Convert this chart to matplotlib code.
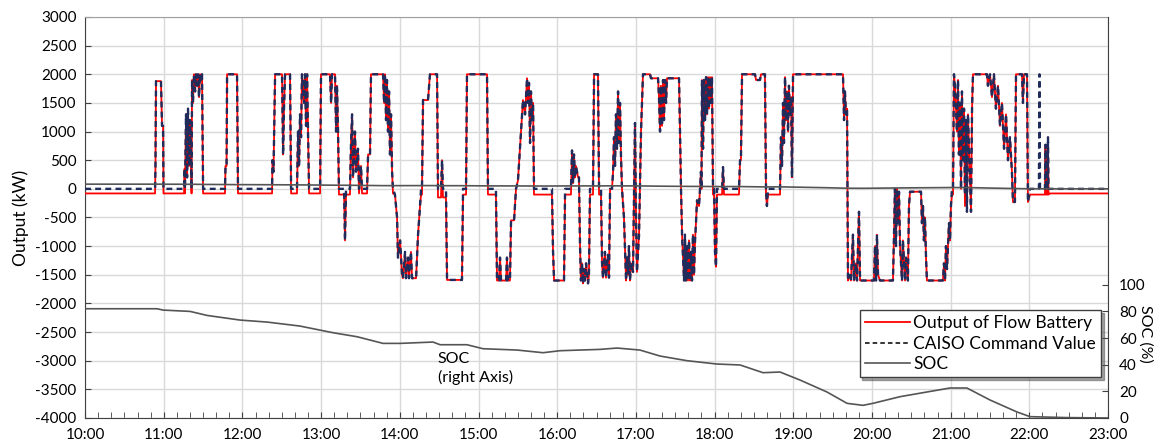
import matplotlib
matplotlib.use("Agg")
import matplotlib.pyplot as plt
from matplotlib.lines import Line2D
import numpy as np

plt.rcParams['font.family'] = ['Lato', 'DejaVu Sans']
plt.rcParams['axes.unicode_minus'] = False

# time in minutes after 10:00, power in kW
t_min = [
    0.0, 53.4, 53.7, 54.1, 57.9, 58.7, 59.5, 59.8, 75.5, 75.9,
    76.2, 77.0, 77.8, 78.5, 79.3, 80.1, 80.8, 81.2, 81.6, 82.3,
    83.1, 83.9, 84.6, 85.4, 86.2, 86.9, 87.7, 88.4, 89.2, 90.0,
    106.7, 107.1, 107.9, 108.3, 115.9, 116.6, 142.6, 142.9, 143.7, 144.9,
    150.2, 151.0, 151.7, 152.5, 156.3, 157.1, 161.6, 162.4, 163.2, 163.9,
    164.7, 165.4, 167.0, 167.7, 168.5, 169.3, 170.0, 170.8, 179.2, 179.9,
    186.8, 187.6, 188.3, 190.6, 191.4, 192.1, 192.9, 193.6, 197.5, 198.2,
    199.0, 202.0, 202.8, 203.6, 204.3, 205.8, 206.6, 208.1, 208.9, 210.4,
    211.2, 215.0, 215.8, 217.3, 218.0, 227.2, 228.0, 228.7, 229.5, 230.2,
    231.0, 231.8, 232.5, 233.3, 234.1, 234.8, 236.3, 237.9, 238.6, 240.2,
    241.7, 242.4, 244.0, 244.7, 246.3, 247.0, 248.5, 249.3, 252.4, 253.1,
    253.9, 255.4, 256.2, 256.9, 257.7, 261.5, 263.0, 268.4, 269.1, 271.4,
    272.2, 272.9, 275.2, 276.0, 287.4, 288.2, 290.5, 291.2, 306.5, 307.2,
    313.3, 314.1, 315.6, 316.4, 317.2, 321.0, 321.7, 322.5, 324.0, 324.8,
    327.1, 328.6, 330.1, 332.4, 333.9, 335.5, 337.0, 337.7, 338.5, 339.3,
    340.0, 340.8, 341.6, 342.3, 356.0, 356.8, 357.6, 365.2, 366.0, 370.5,
    371.3, 372.1, 372.8, 373.6, 374.3, 375.9, 376.6, 377.4, 378.1, 378.9,
    379.7, 380.4, 381.2, 382.0, 383.5, 384.2, 385.0, 387.3, 388.1, 391.1,
    391.9, 393.4, 394.2, 394.9, 396.4, 397.2, 398.7, 399.5, 400.3, 401.8,
    402.6, 403.3, 404.1, 404.8, 405.6, 406.4, 407.1, 407.9, 408.6, 409.4,
    410.9, 412.5, 413.2, 414.0, 414.7, 415.5, 416.3, 417.8, 419.3, 420.1,
    420.8, 422.4, 423.9, 425.4, 430.8, 431.5, 436.9, 437.6, 438.4, 439.1,
    439.9, 440.7, 441.4, 442.2, 443.0, 443.7, 452.9, 453.6, 454.4, 455.2,
    456.7, 457.4, 458.2, 459.0, 459.7, 460.5, 461.3, 462.0, 462.8, 463.5,
    464.3, 465.1, 465.8, 466.6, 468.1, 468.9, 469.6, 470.0, 470.4, 471.2,
    471.9, 472.7, 473.5, 474.2, 475.0, 475.7, 476.5, 477.3, 478.0, 478.8,
    479.6, 480.3, 481.1, 481.8, 485.7, 486.4, 487.2, 498.6, 499.4, 500.1,
    500.9, 510.8, 511.6, 514.6, 515.4, 518.4, 519.2, 519.9, 520.7, 529.9,
    530.6, 531.4, 532.2, 532.9, 533.7, 534.4, 535.2, 536.0, 536.7, 537.5,
    538.3, 539.0, 539.8, 577.9, 578.7, 579.4, 580.2, 581.0, 581.7, 582.5,
    584.0, 585.5, 586.3, 587.8, 588.6, 590.1, 590.9, 601.5, 602.3, 603.1,
    603.8, 604.6, 606.1, 616.0, 616.8, 617.5, 618.3, 619.1, 619.8, 620.6,
    621.4, 622.9, 623.6, 625.2, 625.9, 627.4, 628.2, 629.0, 637.4, 638.1,
    638.9, 639.6, 640.4, 641.2, 641.9, 654.1, 654.9, 655.7, 656.4, 657.2,
    658.7, 659.5, 660.2, 661.0, 661.8, 662.5, 663.3, 664.8, 665.6, 666.3,
    667.1, 667.9, 668.6, 669.4, 670.2, 670.9, 671.7, 672.4, 673.2, 674.7,
    675.5, 676.3, 677.0, 687.7, 688.4, 690.0, 691.5, 693.0, 694.5, 696.1,
    697.6, 699.1, 700.7, 702.2, 703.7, 705.2, 706.7, 707.5, 709.0, 709.8,
    714.4, 715.1, 715.9, 718.2, 718.9, 720.5, 727.3, 727.7, 728.1, 731.9,
    732.3, 732.7, 733.8, 734.2, 734.6, 735.7, 780.0,
]

caiso_kw = [
    0, 0, 400, 1880, 1880, 1100, 1100, 0, 0, 350,
    0, 1300, 200, 1400, 400, 1200, 700, 0, 1900, 1500,
    2000, 1700, 2000, 1800, 2000, 1600, 2000, 1900, 2000, 0,
    0, 400, 400, 2000, 2000, 0, 0, 500, 300, 2000,
    2000, 600, 1400, 2000, 2000, 0, 0, 1000, 400, 1300,
    900, 2000, 1500, 2000, 1100, 2000, 1000, 0, 0, 2000,
    2000, 1500, 2000, 2000, 1000, 1800, 1000, 0, 0, -900,
    0, 0, 800, 1300, 200, 1000, 300, 700, 0, 400,
    0, 0, 600, 600, 2000, 2000, 1500, 2000, 1200, 1900,
    1000, 1700, 600, 1300, 300, 0, -100, -500, -1200, -900,
    -1500, -1560, -1100, -1560, -1200, -1560, -1100, -1560, -1560, -1200,
    -800, -300, 0, 0, 1550, 1550, 2000, 2000, 0, 0,
    500, 0, 0, -1590, -1590, 0, 0, 2000, 2000, 0,
    0, -1600, -1600, -1200, -1600, -1600, -1200, -1600, -1600, -550,
    -550, 0, 150, 980, 1550, 1300, 1930, 1500, 1850, 800,
    1700, 1200, 1500, 0, 0, -1070, -1600, -1600, 0, 0,
    670, 100, 600, 200, 400, 200, 200, -1000, -1600, -1300,
    -1650, -1400, -1600, -1300, -1650, -1500, 0, 0, 2000, 2000,
    0, 0, -1300, -1550, -1100, -1550, -1150, -1550, 0, 0,
    300, 900, 400, 1300, 700, 1700, 800, 1500, 600, 0,
    -500, -1600, -1200, -1500, -1000, -1600, -1300, -1450, 1150, -500,
    -1450, -800, 1000, 2000, 2000, 1930, 1930, 1600, 1000, 1800,
    1100, 1900, 1200, 1900, 1500, 1930, 1930, 1000, 0, -800,
    -1600, -800, -1600, -1000, -1600, -900, -1600, -1100, -1600, -800,
    -1500, -900, -600, -200, -300, 0, 300, 0, 1900, 700,
    1900, 1200, 1950, 1300, 1950, 1400, 1950, 1500, 1950, 0,
    0, -1100, -1360, 0, 0, 380, 0, 0, 500, 500,
    2000, 2000, 1900, 1900, 2000, 2000, 0, -300, 0, 0,
    900, 400, 1500, 800, 1950, 1200, 1700, 1000, 1800, 1300,
    1600, 200, 2000, 2000, 1200, 1700, 1300, 1400, -1600, -1500,
    -1600, -800, -1600, -1300, -1600, -400, -1600, -1600, -1000, -1600,
    -800, -1500, -1600, -1600, -800, 0, -1000, 0, -600, -50,
    -1000, -1600, -900, -1600, -1200, -1600, -300, -50, -50, -600,
    -300, -900, -500, -1200, -1600, -1600, -1300, -1600, -1000, -1400,
    -600, -900, -300, 0, 0, 2000, 1800, 1000, 1900, 600,
    1500, 0, 1700, 500, 1400, -100, 1200, -400, 1300, 200,
    -400, 1400, 2000, 2000, 1800, 2000, 1600, 2000, 1400, 1800,
    1100, 1500, 700, 1300, 500, 900, 300, -230, -230, 2000,
    2000, 1500, 2000, 2000, -230, 0, 0, 2000, 0, 0,
    770, 0, 0, 900, 0, 0, 0,
]

battery_kw = [
    -80, -80, 400, 1880, 1880, 1100, 1100, -80, -80, 350,
    -80, 1300, 200, 1400, 400, 1200, 700, -80, 1900, 1500,
    2000, 1700, 2000, 1800, 2000, 1600, 2000, 1900, 2000, -80,
    -80, 400, 400, 2000, 2000, -80, -80, 500, 300, 2000,
    2000, 600, 1400, 2000, 2000, -80, -80, 1000, 400, 1300,
    900, 2000, 1500, 2000, 1100, 2000, 1000, -80, -80, 2000,
    2000, 1500, 2000, 2000, 1000, 1800, 1000, -100, -100, -900,
    -100, -100, 800, 1300, 200, 1000, 300, 700, -80, 400,
    -80, -80, 600, 600, 2000, 2000, 1500, 2000, 1200, 1900,
    1000, 1700, 600, 1300, 300, -80, -100, -500, -1200, -900,
    -1500, -1560, -1100, -1560, -1200, -1560, -1100, -1560, -1560, -1200,
    -800, -300, -100, -100, 1550, 1550, 2000, 2000, -150, -150,
    500, -150, -150, -1590, -1590, -100, -100, 2000, 2000, -100,
    -100, -1600, -1600, -1200, -1600, -1600, -1200, -1600, -1600, -550,
    -550, 0, 150, 980, 1550, 1300, 1930, 1500, 1850, 800,
    1700, 1200, 1500, -100, -100, -1070, -1600, -1600, -100, -100,
    670, 100, 600, 200, 400, 200, 200, -1000, -1600, -1300,
    -1650, -1400, -1600, -1300, -1650, -1500, -100, -100, 2000, 2000,
    -100, -100, -1300, -1550, -1100, -1550, -1150, -1550, 0, 0,
    300, 900, 400, 1300, 700, 1700, 800, 1500, 600, 0,
    -500, -1600, -1200, -1500, -1000, -1600, -1300, -1450, 1150, -500,
    -1450, -800, 1000, 2000, 2000, 1930, 1930, 1600, 1000, 1800,
    1100, 1900, 1200, 1900, 1500, 1930, 1930, 1000, 0, -800,
    -1600, -800, -1600, -1000, -1600, -900, -1600, -1100, -1600, -800,
    -1500, -900, -600, -200, -300, 0, 300, 0, 1900, 700,
    1900, 1200, 1950, 1300, 1950, 1400, 1950, 1500, 1950, -100,
    -100, -1100, -1360, -100, -100, 380, -100, -100, 500, 500,
    2000, 2000, 1900, 1900, 2000, 2000, -100, -300, -100, -100,
    900, 400, 1500, 800, 1950, 1200, 1700, 1000, 1800, 1300,
    1600, 200, 2000, 2000, 1200, 1700, 1300, 1400, -1600, -1500,
    -1600, -800, -1600, -1300, -1600, -400, -1600, -1600, -1000, -1600,
    -800, -1500, -1600, -1600, -800, 0, -1000, 0, -600, -50,
    -1000, -1600, -900, -1600, -1200, -1600, -300, -50, -50, -600,
    -300, -900, -500, -1200, -1600, -1600, -1300, -1600, -1000, -1400,
    -600, -900, -300, -100, -100, 2000, 1800, 1000, 1900, 600,
    1500, 0, 1700, 500, 1400, -300, 1200, -400, 1300, 200,
    -400, 1400, 2000, 2000, 1800, 2000, 1600, 2000, 1400, 1800,
    1100, 1500, 700, 1300, 500, 900, 300, -230, -230, 2000,
    2000, 1500, 2000, 2000, -230, -100, -100, -100, -100, -100,
    770, -100, -100, 900, -100, -80, -80,
]

soc_t_min = [0.0, 54.9, 59.5, 80.1, 93.0, 118.2, 138.8, 163.9, 189.1, 207.4,
             227.2, 240.2, 265.3, 270.7, 291.2, 303.4, 329.4, 349.2, 362.1, 392.6,
             405.6, 423.1, 438.4, 459.0, 481.8, 499.4, 516.9, 529.9, 545.1, 565.7,
             581.0, 593.1, 600.8, 621.4, 638.9, 659.5, 672.4, 690.0, 710.6, 720.5,
             748.7, 780.0]
soc_pct = [82, 82, 81, 80, 77, 73.5, 72, 69, 64, 61,
           56, 56, 57, 55, 55, 52, 51, 49, 50.5, 51.5,
           52.5, 51, 46.5, 43, 40.5, 39.8, 34, 34.5, 28.5, 19.5,
           11, 9.5, 11, 16, 19, 22.5, 22.5, 13.5, 4.5, 1,
           0.3, 0]

hour_labels = ['10:00', '11:00', '12:00', '13:00', '14:00', '15:00', '16:00',
               '17:00', '18:00', '19:00', '20:00', '21:00', '22:00', '23:00']
legend_labels = ['Output of Flow Battery', 'CAISO Command Value', 'SOC']

red = '#FF0000'
navy = '#1F2C5C'
gray = '#555555'

fig = plt.figure(figsize=(11.57, 4.46), dpi=100)
ax = fig.add_axes([0.0735, 0.0628, 0.8842, 0.8991])

ax.plot(t_min, battery_kw, color=red, lw=1.3, zorder=3)
ax.plot(t_min, caiso_kw, color=navy, lw=1.7, ls=(0, (2.5, 1.8)), zorder=4)
ax.plot(soc_t_min, soc_pct, color=gray, lw=1.2, zorder=5)

ax.set_xlim(0, 780)
ax.set_ylim(-4000, 3000)
ax.set_xticks(np.arange(0, 781, 60))
ax.set_xticklabels(hour_labels)
ax.set_xticks(np.arange(0, 781, 10), minor=True)
ax.set_yticks(np.arange(-4000, 3001, 500))
ax.grid(True, which='major', color='#D9D9D9', lw=1.0, zorder=0)
ax.set_axisbelow(True)
ax.tick_params(axis='both', which='both', direction='in', labelsize=11,
               colors='#404040', labelcolor='black')
ax.tick_params(axis='x', which='major', length=4, pad=7)
ax.tick_params(axis='x', which='minor', length=4)
ax.tick_params(axis='y', length=4, pad=6)
ax.set_ylabel('Output (kW)', fontsize=12.5, labelpad=5)
for s in ['left', 'bottom']:
    ax.spines[s].set_color('#404040')
ax.spines['top'].set_color('#A0A0A0')
ax.spines['right'].set_visible(False)

ax2 = ax.twinx()
ax2.plot(soc_t_min, soc_pct, color=gray, lw=1.2)
ax2.set_ylim(0, 301)
ax2.set_yticks([0, 20, 40, 60, 80, 100])
ax2.tick_params(axis='y', direction='in', length=4, labelsize=11,
                colors='#404040', labelcolor='black', pad=8)
for s in ['left', 'bottom', 'top']:
    ax2.spines[s].set_visible(False)
ax2.spines['right'].set_color('#404040')
ax2.text(1.037, 0.21, 'SOC (%)', transform=ax2.transAxes, rotation=-90,
         ha='center', va='center', fontsize=11.5)

ax.text(269, -2846, 'SOC\n(right Axis)', fontsize=11.5, ha='left', va='top',
        linespacing=1.3)

handles = [Line2D([], [], color=red, lw=1.3),
           Line2D([], [], color='black', lw=1.1, ls=(0, (3, 2))),
           Line2D([], [], color=gray, lw=1.2)]
leg = ax2.legend(handles, legend_labels,
                 loc='upper right', bbox_to_anchor=(0.9935, 0.269), borderaxespad=0,
                 fontsize=12.5, frameon=True, fancybox=False, shadow=True,
                 handlelength=2.6, handletextpad=0.2, labelspacing=0.25,
                 borderpad=0.3)
leg.get_frame().set_edgecolor('#404040')
leg.get_frame().set_linewidth(1.0)

fig.savefig('out.png', dpi=100)
